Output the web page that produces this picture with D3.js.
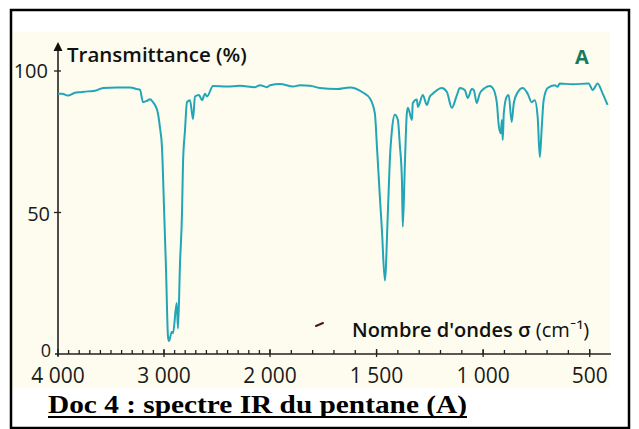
<!DOCTYPE html>
<html><head><meta charset="utf-8">
<script src="https://cdn.jsdelivr.net/npm/d3@7"></script>
<style>html,body{margin:0;padding:0;background:#fff;}svg{display:block;}</style>
</head><body>
<svg id="c" width="639" height="429"></svg>
<script>
// Data: wavenumber (cm-1) and transmittance (%)
const wavenumbers = [4000,3962,3906,3840,3792,3717,3651,3575,3443,3321,3255,3226,3198,3160,3132,3104,3085,3057,3038,3019,3000,2981,2962,2953,2927,2915,2880,2868,2849,2830,2821,2802,2783,2755,2726,2708,2670,2641,2613,2594,2538,2406,2283,2142,2094,2028,
2000,1953,1892,1859,1812,1766,1686,1625,1564,1531,1508,1498,1484,1475,1461,1447,1438,1428,1414,1400,1391,1381,1377,1367,1358,1353,1334,1330,1311,1306,1283,1264,1250,1236,1194,1170,1147,1123,1109,1086,1072,1053,1044,1030,1016,992,969,955,936,927,917,912,908,903,889,880,866,856,837,814,791,772,758,744,734,725,716,697,664,650,641,580,505,486,463,439,416];
const transmittance = [92,92,91.3,92.3,92.5,92.8,93,94,94.2,94.2,93.6,93.3,89,89.5,90,89,88,85,80,73,52,30,6,4.6,7.8,7.4,18,9,32,50,67,79,89,89.7,83,91,91.5,89.7,92,91,94.7,94.5,94.8,94.3,95,94.3,
95,95.4,94.5,95,94.8,94,93.6,94.2,92.4,90.3,85,73,55,44,26,50,68,79,84.5,82.7,74,61.5,45,67.5,85,87,82.7,88.7,89.9,87.3,91.5,88,91,92,94,92.6,87,91.5,94,93.3,90.5,93.6,93.3,88.7,92,94,94.7,94,89,81,78,82.7,75.6,85,91,91.5,82,88.7,92.6,94,92,89,89.7,83.7,69.6,80,89.7,94,95,94.4,95.6,95.3,95.6,93.3,95.6,92,88];
const majorTicks = [4000,3000,2000,1500,1000,500];
const majorLabels = ["4 000","3 000","2 000","1 500","1 000","500"];
const minorTicks = d3.range(3900,400,-100);
const yTicks = [0,50,100];
const yLabels = ["0","50","100"];

const svg = d3.select("#c");
// frame
svg.append("rect").attr("x",12).attr("y",32).attr("width",598).attr("height",356).attr("fill","#fdfcee");
svg.append("rect").attr("x",11).attr("y",10).attr("width",618).attr("height",418).attr("fill","none").attr("stroke","#000").attr("stroke-width",2.5);
// small stray pen mark present in the original scan
svg.append("line").attr("x1",316).attr("y1",326).attr("x2",323).attr("y2",323).attr("stroke","#4a1818").attr("stroke-width",2).attr("stroke-linecap","round");

const x = d3.scaleLinear().domain([4000,2000,400]).range([58,270,611]);
const y = d3.scaleLinear().domain([0,100]).range([354,71]);

const sans = "'Open Sans', 'Lato', sans-serif";

// x axis
const gx = svg.append("g").attr("transform",`translate(0,${y(0)})`);
gx.append("line").attr("x1",55).attr("x2",611).attr("stroke","#222").attr("stroke-width",1.6);
gx.selectAll("line.mi").data(minorTicks).join("line").attr("class","mi")
  .attr("x1",d=>x(d)).attr("x2",d=>x(d)).attr("y1",0).attr("y2",-4).attr("stroke","#222").attr("stroke-width",1.3);
gx.selectAll("line.ma").data(majorTicks).join("line").attr("class","ma")
  .attr("x1",d=>x(d)).attr("x2",d=>x(d)).attr("y1",3).attr("y2",-5).attr("stroke","#222").attr("stroke-width",1.3);
gx.selectAll("text").data(majorTicks).join("text")
  .attr("x",d=>x(d)).attr("y",29).attr("text-anchor","middle")
  .style("font-family",sans).style("font-size","21px").attr("fill","#1a1a1a")
  .text((d,i)=>majorLabels[i]);

// y axis
svg.append("line").attr("x1",x(4000)).attr("x2",x(4000)).attr("y1",y(0)+2).attr("y2",48).attr("stroke","#222").attr("stroke-width",1.6);
svg.append("path").attr("d",`M${x(4000)},42 L${x(4000)-4.5},51 L${x(4000)+4.5},51 Z`).attr("fill","#111");
svg.selectAll("line.yt").data(yTicks.slice(1)).join("line").attr("class","yt")
  .attr("x1",x(4000)-4).attr("x2",x(4000)+3).attr("y1",d=>y(d)).attr("y2",d=>y(d)).attr("stroke","#222").attr("stroke-width",1.3);
const yRight = {0:51,50:50,100:48};
const yBase = {0:3,50:8,100:7};
svg.selectAll("text.yl").data(yTicks).join("text").attr("class","yl")
  .attr("x",d=>yRight[d]).attr("y",d=>y(d)+yBase[d]).attr("text-anchor","end")
  .style("font-family",sans).style("font-size",d=>d===0?"18px":"20px").attr("fill","#1a1a1a")
  .text((d,i)=>yLabels[i]);

// spectrum
const pts = wavenumbers.map((w,i)=>[w,transmittance[i]]);
svg.append("path").datum(pts)
  .attr("d",d3.line().x(d=>x(d[0])).y(d=>y(d[1])).curve(d3.curveMonotoneX))
  .attr("fill","none").attr("stroke","#22a5b7").attr("stroke-width",2).attr("stroke-linejoin","round");

// titles
svg.append("text").attr("x",67).attr("y",62).style("font-family",sans).style("font-size","20.5px").style("font-weight",600).attr("fill","#111").text("Transmittance (%)");
svg.append("text").attr("x",575).attr("y",64).style("font-family",sans).style("font-size","20px").style("font-weight",700).attr("fill","#167a5c").text("A");
const xt = svg.append("text").attr("x",352).attr("y",337).style("font-family",sans).style("font-size","20px").attr("fill","#111");
xt.append("tspan").style("font-weight",600).text("Nombre d'ondes σ ");
xt.append("tspan").style("font-weight",400).text("(cm⁻¹)");

// caption
const cap = svg.append("text").attr("x",48).attr("y",413).attr("textLength",419).attr("lengthAdjust","spacingAndGlyphs")
  .style("font-family","'Liberation Serif','Times New Roman',serif").style("font-size","26px").style("font-weight",700).attr("fill","#000").text("Doc 4 : spectre IR du pentane (A)");
const w = cap.node().getComputedTextLength();
svg.append("line").attr("x1",48).attr("x2",48+w).attr("y1",417).attr("y2",417).attr("stroke","#000").attr("stroke-width",1.8);
</script>
</body></html>
